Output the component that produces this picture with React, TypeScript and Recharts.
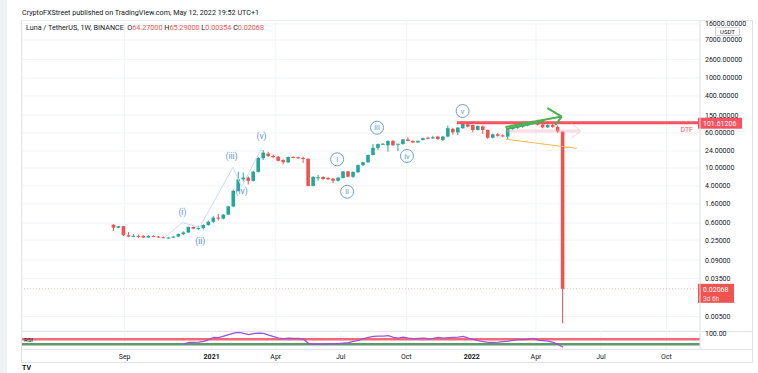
import React from 'react';
import { ComposedChart, Bar, Line, XAxis, YAxis, CartesianGrid, ReferenceLine, ReferenceDot } from 'recharts';

const DAY = 86400000;
const firstWeek = Date.UTC(2020, 7, 17);

// weekly OHLC, Aug 17 2020 .. May 9 2022
const open = [
  0.55, 0.47, 0.51, 0.32, 0.30, 0.31, 0.31, 0.285, 0.31, 0.30, 0.29, 0.28, 0.285, 0.30, 0.34, 0.37, 0.49, 0.45, 0.46, 0.54,
  0.64, 0.79, 0.75, 0.92, 1.40, 3.10, 5.60, 6.10, 5.20, 8.20, 16.5, 21, 18.5, 17.8, 15, 13.4, 17.6, 17.4, 16.8, 16,
  4.0, 6.1, 6.3, 6.0, 5.8, 5.2, 6.0, 8.4, 6.4, 8.0, 11.6, 13.4, 19.5, 28, 34, 32, 40, 34, 34, 43,
  40, 37, 42, 47, 47, 50, 42, 50, 74, 62, 77, 94, 90, 70, 84, 70, 47, 56, 53, 50,
  73, 78, 82, 88, 95, 108, 92, 80, 90, 82, 64.27,
];
const high = [
  0.56, 0.52, 0.52, 0.38, 0.34, 0.33, 0.32, 0.32, 0.32, 0.31, 0.30, 0.295, 0.31, 0.35, 0.39, 0.50, 0.50, 0.52, 0.56, 0.68,
  0.85, 0.95, 0.95, 1.45, 3.30, 8.30, 7.90, 6.50, 8.60, 17.5, 25, 23, 20, 18.5, 16, 18, 18.2, 18, 18, 16.5,
  6.6, 7.0, 6.6, 6.4, 6.0, 6.3, 8.6, 8.6, 8.4, 12, 13.8, 20, 34, 35, 36, 41, 42, 35, 44, 48,
  41, 41, 47, 50, 52, 52, 52, 88, 78, 82, 103, 104, 92, 88, 88, 72, 58, 60, 56, 75,
  82, 86, 92, 100, 113, 119, 95, 94, 96, 88, 65.29,
];
const low = [
  0.40, 0.46, 0.31, 0.29, 0.29, 0.28, 0.28, 0.28, 0.295, 0.285, 0.275, 0.27, 0.28, 0.29, 0.32, 0.36, 0.44, 0.42, 0.43, 0.52,
  0.60, 0.68, 0.72, 0.90, 1.35, 3.00, 5.00, 4.30, 5.00, 7.90, 15, 17.5, 16.5, 14, 12, 12.8, 16.3, 15.8, 13, 3.9,
  3.9, 5.2, 5.4, 5.4, 4.6, 5.0, 5.9, 6.2, 6.0, 7.9, 11, 13, 19, 25, 33, 23, 31, 24, 33, 39,
  36, 36, 41, 43, 44, 42, 40, 48, 55, 54, 74, 80, 62, 68, 57, 44, 45, 50, 48, 43,
  70, 74, 78, 85, 92, 88, 76, 78, 78, 60, 0.00354,
];
const close = [
  0.47, 0.51, 0.32, 0.30, 0.31, 0.30, 0.285, 0.31, 0.30, 0.29, 0.28, 0.285, 0.30, 0.34, 0.37, 0.49, 0.45, 0.46, 0.54, 0.64,
  0.79, 0.75, 0.92, 1.40, 3.10, 5.60, 6.10, 5.20, 8.30, 16.7, 22, 18.5, 17.5, 14.5, 13.4, 17.6, 17, 16.5, 15.8, 4.0,
  6.3, 6.25, 5.7, 5.6, 5.2, 6.1, 8.4, 6.4, 8.2, 11.6, 13.4, 19.5, 28, 34, 34.5, 40, 32, 34.5, 43, 40,
  37, 40, 46, 45, 48, 44, 50, 77, 62, 79, 100, 83, 70, 86, 70, 47, 56, 52, 51, 73,
  78, 82, 88, 95, 108, 92, 80, 90, 82, 64.27, 0.02068,
];

// RSI(14) from the 15th week on
const rsiFirst = 14;
const rsi = [
  51, 58, 58, 59, 62, 69, 78, 77, 83, 89,
  95, 98, 94, 89, 93, 95, 94, 87, 81, 75,
  73, 75, 74, 74, 71, 53, 51, 51, 51, 53,
  51, 53, 55, 57, 62, 66, 73, 78, 82, 83,
  83, 85, 78, 75, 79, 75, 73, 74, 75, 73,
  74, 78, 75, 77, 78, 79, 82, 75, 70, 65,
  61, 58, 58, 59, 61, 63, 66, 69, 69, 70,
  74, 67, 65, 63, 58, 49, 38,
];

const priceTicks = [16000, 7000, 2600, 1000, 400, 150, 60, 24, 10, 4, 1.6, 0.6, 0.25, 0.09, 0.035, 0.005];
const timeTicks = ['2020-09-01', '2021-01-01', '2021-04-01', '2021-07-01', '2021-10-01', '2022-01-01', '2022-04-01', '2022-07-01', '2022-10-01'];
const timeLabels = ['Sep', '2021', 'Apr', 'Jul', 'Oct', '2022', 'Apr', 'Jul', 'Oct'];

// drawings on the chart
const zigzag = [
  { date: '2020-10-27', price: 0.288 },
  { date: '2020-11-21', price: 0.61 },
  { date: '2020-12-15', price: 0.48 },
  { date: '2021-01-31', price: 10.4 },
  { date: '2021-02-12', price: 3.84 },
  { date: '2021-03-12', price: 27.4 },
];
const waveLabels = [
  { text: '(i)', date: '2020-11-21', price: 1.05 },
  { text: '(ii)', date: '2020-12-16', price: 0.239 },
  { text: '(iii)', date: '2021-01-29', price: 18.5 },
  { text: '(iv)', date: '2021-02-12', price: 3.08 },
  { text: '(v)', date: '2021-03-12', price: 51 },
];
const circledLabels = [
  { text: 'i', date: '2021-06-26', price: 15.6 },
  { text: 'ii', date: '2021-07-10', price: 2.97 },
  { text: 'iii', date: '2021-08-21', price: 78.7 },
  { text: 'iv', date: '2021-10-02', price: 18.5 },
  { text: 'v', date: '2021-12-19', price: 185 },
];
const dtfLevel = 101.61206;
const dtfStart = '2021-12-11';
const lastPrice = 0.02068;
const greenArrow = [
  [{ date: '2022-02-17', price: 81.5 }, { date: '2022-05-07', price: 139 }],
  [{ date: '2022-02-18', price: 73.6 }, { date: '2022-04-13', price: 111 }],
  [{ date: '2022-04-17', price: 215 }, { date: '2022-05-07', price: 139 }],
  [{ date: '2022-04-28', price: 90 }, { date: '2022-05-07', price: 139 }],
];
const orangeLine = [{ date: '2022-02-18', price: 43.5 }, { date: '2022-05-28', price: 27.4 }];
const pinkArrow = [
  [{ date: '2022-02-19', price: 66 }, { date: '2022-06-01', price: 66 }],
  [{ date: '2022-05-20', price: 100 }, { date: '2022-06-03', price: 66 }],
  [{ date: '2022-05-20', price: 46 }, { date: '2022-06-03', price: 66 }],
];

const candles = open.map((o, i) => ({
  t: firstWeek + i * 7 * DAY,
  o,
  h: high[i],
  l: low[i],
  c: close[i],
  range: [low[i], high[i]],
}));
const rsiData = rsi.map((v, i) => ({ t: firstWeek + (i + rsiFirst) * 7 * DAY, v }));
const tickTimes = timeTicks.map((d) => Date.parse(d));
const xDomain = [Date.parse('2020-04-10'), Date.parse('2022-11-17')];
const yDomain = [0.002387, 19450];

const UP = '#26a69a';
const DOWN = '#ef5350';
const TXT = '#131722';
const GRID = '#f0f3fa';
const FONT = 'Roboto, "Liberation Sans", sans-serif';

const pt = (p: { date: string; price: number }) => ({ x: Date.parse(p.date), y: p.price });

const Candle = (props: any) => {
  const { x, width, payload } = props;
  const y = Math.min(props.y, props.y + props.height);
  const height = Math.abs(props.height);
  const { o, h, l, c } = payload;
  const span = Math.log(h) - Math.log(l);
  const py = (v: number) => y + (span ? (height * (Math.log(h) - Math.log(v))) / span : 0);
  const color = c >= o ? UP : DOWN;
  const cx = x + width / 2;
  const top = py(Math.max(o, c));
  const bot = py(Math.min(o, c));
  return (
    <g>
      <line x1={cx} x2={cx} y1={y} y2={y + height} stroke={color} strokeWidth={1} />
      <rect x={x + 0.2} y={top} width={width - 0.4} height={Math.max(1, bot - top)} fill={color} />
    </g>
  );
};

const PriceTag = ({ viewBox, text, sub, color, note }: any) => {
  if (!viewBox) return null;
  const ax = viewBox.x + viewBox.width;
  const y = viewBox.y;
  return (
    <g fontFamily={FONT}>
      {note && (
        <text x={ax - 7} y={y + 9} textAnchor="end" fontSize={7} fill={color}>
          {note}
        </text>
      )}
      <rect x={ax - 2} y={y - 5} width={sub ? 36 : 44} height={sub ? 19 : 11} fill={color} />
      <text x={ax + 3} y={y + 3} fontSize={7} fill="#ffffff">
        {text}
      </text>
      {sub && (
        <text x={ax + 3} y={y + 12} fontSize={6.5} fill="#fde0e0">
          {sub}
        </text>
      )}
    </g>
  );
};

const PriceTick = (props: any) => {
  const { x, y, payload } = props;
  return (
    <text x={x} y={y} dy="0.355em" textAnchor="start" fontSize={7} fill={TXT} fontFamily={FONT}>
      {Number(payload.value).toFixed(5)}
    </text>
  );
};

const TimeTick = (props: any) => {
  const { x, y, index } = props;
  const label = timeLabels[index] ?? '';
  const bold = label.length === 4;
  return (
    <text x={x} y={y} dy="0.71em" textAnchor="middle" fontSize={7} fill={TXT} fontWeight={bold ? 'bold' : 'normal'} fontFamily={FONT}>
      {label}
    </text>
  );
};

export default function App() {
  return (
    <div style={{ position: 'absolute', left: 0, top: 0, width: 758, height: 373, overflow: 'hidden', background: '#fff', fontFamily: FONT, color: TXT }}>
      <div style={{ position: 'absolute', left: 0, top: 0, width: 7, height: 373, background: '#eff1f4' }} />
      <div style={{ position: 'absolute', left: 22, top: 8, fontSize: 7.2, lineHeight: '10px', whiteSpace: 'nowrap' }}>
        CryptoFXStreet published on TradingView.com, May 12, 2022 19:52 UTC+1
      </div>
      <div style={{ position: 'absolute', left: 21, top: 20, width: 732, height: 343, border: '1px solid #e0e3eb', boxSizing: 'border-box' }} />
      <div style={{ position: 'absolute', left: 22, top: 331, width: 730, height: 0, borderTop: '1px solid #e0e3eb' }} />
      <div style={{ position: 'absolute', left: 22, top: 349, width: 730, height: 0, borderTop: '1px solid #e0e3eb' }} />

      <div style={{ position: 'absolute', left: 22, top: 20 }}>
        <ComposedChart width={730} height={311} data={candles} margin={{ top: 0, right: 0, bottom: 0, left: 0 }}>
          <CartesianGrid stroke={GRID} />
          <XAxis dataKey="t" type="number" domain={xDomain} ticks={tickTimes} hide allowDataOverflow />
          <YAxis
            orientation="right"
            type="number"
            scale="log"
            domain={yDomain}
            ticks={priceTicks}
            allowDataOverflow
            width={52}
            tick={(p: any) => <PriceTick {...p} />}
            tickLine={false}
            tickSize={0}
            tickMargin={5}
            axisLine={{ stroke: '#e0e3eb' }}
            interval={0}
          />
          {zigzag.slice(1).map((p, i) => (
            <ReferenceLine key={`z${i}`} segment={[pt(zigzag[i]), pt(p)]} stroke="#cfdcf0" strokeWidth={1} ifOverflow="visible" />
          ))}
          <Bar dataKey="range" barSize={4} isAnimationActive={false} shape={(p: any) => <Candle {...p} />} />
          <ReferenceLine y={lastPrice} stroke={DOWN} strokeOpacity={0.4} strokeDasharray="1 2" ifOverflow="visible"
            label={<PriceTag text="0.02068" sub="3d 6h" color={DOWN} />} />
          <ReferenceLine
            segment={[{ x: Date.parse(dtfStart), y: dtfLevel }, { x: xDomain[1], y: dtfLevel }]}
            stroke="#f7525f"
            strokeWidth={3}
            ifOverflow="visible"
            label={<PriceTag text="101.61206" color="#f7525f" note="DTF" />}
          />
          {pinkArrow.map((s, i) => (
            <ReferenceLine key={`p${i}`} segment={[pt(s[0]), pt(s[1])]} stroke="#f6a9b8" strokeOpacity={0.4} strokeWidth={i === 0 ? 3 : 1.2} ifOverflow="visible" />
          ))}
          <ReferenceLine segment={[pt(orangeLine[0]), pt(orangeLine[1])]} stroke="#ffb74d" strokeWidth={1} ifOverflow="visible" />
          {greenArrow.map((s, i) => (
            <ReferenceLine key={`g${i}`} segment={[pt(s[0]), pt(s[1])]} stroke="#4caf50" strokeWidth={2} ifOverflow="visible" />
          ))}
          {waveLabels.map((w) => (
            <ReferenceDot key={w.text} x={Date.parse(w.date)} y={w.price} r={0} stroke="none" fill="none" ifOverflow="visible"
              label={{ value: w.text, position: 'center', fill: '#5f95d8', fontSize: 8.5, fontFamily: FONT }} />
          ))}
          {circledLabels.map((w) => (
            <ReferenceDot key={`c${w.text}`} x={Date.parse(w.date)} y={w.price} r={6.5} stroke="#6aa1db" strokeWidth={1} fill="#ffffff" fillOpacity={0} ifOverflow="visible"
              label={{ value: w.text, position: 'center', fill: '#5f95d8', fontSize: 7.5, fontFamily: FONT }} />
          ))}
        </ComposedChart>
      </div>

      <div style={{ position: 'absolute', left: 22, top: 331 }}>
        <ComposedChart width={730} height={32} data={rsiData} margin={{ top: 0, right: 0, bottom: 0, left: 0 }}>
          <CartesianGrid stroke={GRID} horizontal={false} />
          <XAxis
            dataKey="t"
            type="number"
            domain={xDomain}
            ticks={tickTimes}
            allowDataOverflow
            height={14}
            interval={0}
            axisLine={false}
            tickLine={false}
            tickSize={0}
            tickMargin={5}
            tick={(p: any) => <TimeTick {...p} />}
          />
          <YAxis
            orientation="right"
            type="number"
            domain={[31.2, 103.2]}
            ticks={[100]}
            allowDataOverflow
            interval={0}
            width={52}
            tickFormatter={(v: number) => v.toFixed(2)}
            tick={{ fontSize: 7, fill: TXT, fontFamily: FONT, dy: 2 }}
            tickLine={false}
            tickSize={0}
            tickMargin={5}
            axisLine={{ stroke: '#e0e3eb' }}
          />
          <ReferenceLine y={70} stroke="#f26a7a" strokeWidth={2.5} />
          <ReferenceLine y={50} stroke="#5b9a6c" strokeWidth={2.5} />
          <Line dataKey="v" type="linear" stroke="#a050d6" strokeWidth={1.3} dot={false} isAnimationActive={false} />
        </ComposedChart>
      </div>

      <div style={{ position: 'absolute', left: 26, top: 23, fontSize: 7.2, lineHeight: '10px', whiteSpace: 'nowrap' }}>
        Luna / TetherUS, 1W, BINANCE&nbsp;&nbsp;O<span style={{ color: DOWN }}>64.27000</span> H<span style={{ color: DOWN }}>65.29000</span> L
        <span style={{ color: DOWN }}>0.00354</span> C<span style={{ color: DOWN }}>0.02068</span>
      </div>
      <div style={{ position: 'absolute', left: 715, top: 27, width: 23, height: 7, border: '1px solid #d1d4dc', background: '#fff', fontSize: 6, lineHeight: '7px', textAlign: 'center', boxSizing: 'content-box' }}>
        USDT
      </div>
      <div style={{ position: 'absolute', left: 24, top: 336, fontSize: 6, lineHeight: '7px' }}>RSI</div>
      <div style={{ position: 'absolute', left: 22, top: 364, fontSize: 7, fontWeight: 'bold', lineHeight: '8px' }}>TV</div>
    </div>
  );
}
